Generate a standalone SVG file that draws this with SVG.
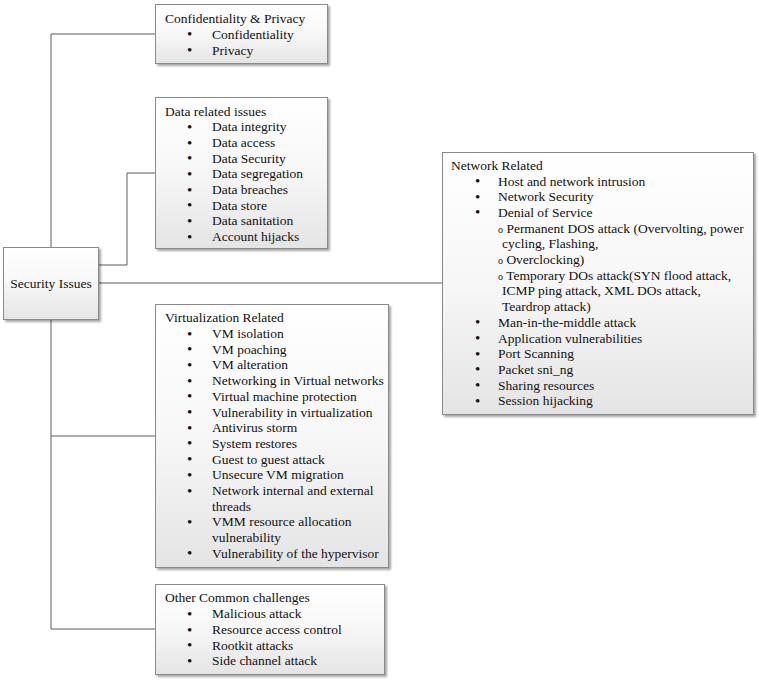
<svg xmlns="http://www.w3.org/2000/svg" width="759" height="681" viewBox="0 0 759 681">
<defs>
<linearGradient id="g" x1="0" y1="0" x2="0" y2="1">
<stop offset="0" stop-color="#ffffff"/>
<stop offset="0.5" stop-color="#f7f7f7"/>
<stop offset="1" stop-color="#e4e4e4"/>
</linearGradient>
<filter id="sh" x="-5%" y="-5%" width="115%" height="115%">
<feDropShadow dx="2" dy="2" stdDeviation="1.2" flood-color="#000" flood-opacity="0.35"/>
</filter>
</defs>
<style>
.box{fill:url(#g);stroke:#8a8a8a;stroke-width:1;filter:url(#sh)}
.t{font-family:"Liberation Serif","Times New Roman",serif;font-size:13.5px;fill:#111}
.b{font-size:15px}
.c{fill:none;stroke:#5a5a5a;stroke-width:1}
</style>
<rect width="759" height="681" fill="#ffffff"/>
<g id="connectors">
<path class="c" d="M51,247 V34 H155"/>
<path class="c" d="M99,265 H127 V173 H155"/>
<path class="c" d="M99,283 H442"/>
<path class="c" d="M51,320 V629 H155"/>
<path class="c" d="M51,436 H155"/>
</g>
<g id="security-issues">
<rect class="box" x="3.5" y="247.5" width="95" height="72"/>
<text class="t" x="51" y="288" text-anchor="middle">Security Issues</text>
</g>
<g id="confidentiality">
<rect class="box" x="155.5" y="4.5" width="172" height="59"/>
<text class="t" x="165" y="23">Confidentiality &amp; Privacy</text>
<g class="t">
<text class="b" x="187" y="39">•</text><text x="212" y="38.5">Confidentiality</text>
<text class="b" x="187" y="55">•</text><text x="212" y="54.5">Privacy</text>
</g>
</g>
<g id="data-related">
<rect class="box" x="155.5" y="97.5" width="172" height="151"/>
<text class="t" x="165" y="115.5">Data related issues</text>
<g class="t">
<text class="b" x="187" y="131.5">•</text><text x="212" y="131">Data integrity</text>
<text class="b" x="187" y="147.5">•</text><text x="212" y="147">Data access</text>
<text class="b" x="187" y="163">•</text><text x="212" y="162.5">Data Security</text>
<text class="b" x="187" y="178.5">•</text><text x="212" y="178">Data segregation</text>
<text class="b" x="187" y="194.5">•</text><text x="212" y="194">Data breaches</text>
<text class="b" x="187" y="210">•</text><text x="212" y="209.5">Data store</text>
<text class="b" x="187" y="225.5">•</text><text x="212" y="225">Data sanitation</text>
<text class="b" x="187" y="241.5">•</text><text x="212" y="241">Account hijacks</text>
</g>
</g>
<g id="virtualization">
<rect class="box" x="155.5" y="304.5" width="233" height="263"/>
<text class="t" x="165" y="322">Virtualization Related</text>
<g class="t">
<text class="b" x="187" y="338.5">•</text><text x="212" y="338">VM isolation</text>
<text class="b" x="187" y="354.2">•</text><text x="212" y="353.7">VM poaching</text>
<text class="b" x="187" y="369.9">•</text><text x="212" y="369.4">VM alteration</text>
<text class="b" x="187" y="385.6">•</text><text x="212" y="385.1">Networking in Virtual networks</text>
<text class="b" x="187" y="401.3">•</text><text x="212" y="400.8">Virtual machine protection</text>
<text class="b" x="187" y="417">•</text><text x="212" y="416.5">Vulnerability in virtualization</text>
<text class="b" x="187" y="432.7">•</text><text x="212" y="432.2">Antivirus storm</text>
<text class="b" x="187" y="448.4">•</text><text x="212" y="447.9">System restores</text>
<text class="b" x="187" y="464.1">•</text><text x="212" y="463.6">Guest to guest attack</text>
<text class="b" x="187" y="479.8">•</text><text x="212" y="479.3">Unsecure VM migration</text>
<text class="b" x="187" y="495.5">•</text><text x="212" y="495">Network internal and external</text>
<text x="212" y="510.7">threads</text>
<text class="b" x="187" y="526.9">•</text><text x="212" y="526.4">VMM resource allocation</text>
<text x="212" y="542.1">vulnerability</text>
<text class="b" x="187" y="558.3">•</text><text x="212" y="557.8">Vulnerability of the hypervisor</text>
</g>
</g>
<g id="other-common">
<rect class="box" x="155.5" y="584.5" width="229" height="90"/>
<text class="t" x="165" y="602">Other Common challenges</text>
<g class="t">
<text class="b" x="187" y="618.5">•</text><text x="212" y="618">Malicious attack</text>
<text class="b" x="187" y="634.5">•</text><text x="212" y="634">Resource access control</text>
<text class="b" x="187" y="650">•</text><text x="212" y="649.5">Rootkit attacks</text>
<text class="b" x="187" y="665.5">•</text><text x="212" y="665">Side channel attack</text>
</g>
</g>
<g id="network-related">
<rect class="box" x="442.5" y="152.5" width="311" height="262"/>
<text class="t" x="451" y="169.5">Network Related</text>
<g class="t">
<text class="b" x="475" y="186">•</text><text x="498" y="185.5">Host and network intrusion</text>
<text class="b" x="475" y="201.7">•</text><text x="498" y="201.2">Network Security</text>
<text class="b" x="475" y="217.4">•</text><text x="498" y="216.9">Denial of Service</text>
<text x="498" y="232.6"><tspan font-size="10">o</tspan> Permanent DOS attack (Overvolting, power</text>
<text x="502" y="248.3">cycling, Flashing,</text>
<text x="498" y="264"><tspan font-size="10">o</tspan> Overclocking)</text>
<text x="498" y="279.7"><tspan font-size="10">o</tspan> Temporary DOs attack(SYN flood attack,</text>
<text x="502" y="295.4">ICMP ping attack, XML DOs attack,</text>
<text x="502" y="311.1">Teardrop attack)</text>
<text class="b" x="475" y="327.3">•</text><text x="498" y="326.8">Man-in-the-middle attack</text>
<text class="b" x="475" y="343">•</text><text x="498" y="342.5">Application vulnerabilities</text>
<text class="b" x="475" y="358.7">•</text><text x="498" y="358.2">Port Scanning</text>
<text class="b" x="475" y="374.4">•</text><text x="498" y="373.9">Packet sni_ng</text>
<text class="b" x="475" y="390.1">•</text><text x="498" y="389.6">Sharing resources</text>
<text class="b" x="475" y="405.8">•</text><text x="498" y="405.3">Session hijacking</text>
</g>
</g>
</svg>
